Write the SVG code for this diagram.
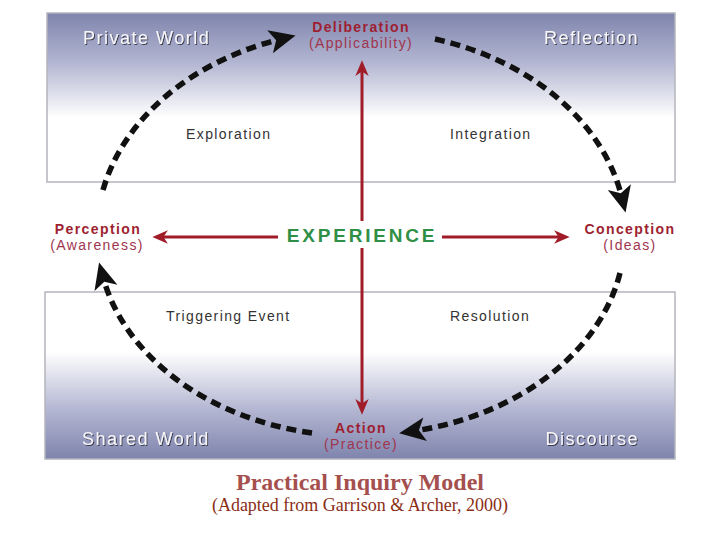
<svg xmlns="http://www.w3.org/2000/svg" width="720" height="540" viewBox="0 0 720 540">
  <defs>
    <linearGradient id="gTop" x1="0" y1="0" x2="0" y2="1">
      <stop offset="0" stop-color="#7f84ad"/>
      <stop offset="0.3" stop-color="#b4b7d2"/>
      <stop offset="0.62" stop-color="#ffffff"/>
      <stop offset="1" stop-color="#ffffff"/>
    </linearGradient>
    <linearGradient id="gBot" x1="0" y1="0" x2="0" y2="1">
      <stop offset="0" stop-color="#ffffff"/>
      <stop offset="0.36" stop-color="#ffffff"/>
      <stop offset="0.7" stop-color="#b4b7d2"/>
      <stop offset="1" stop-color="#7f84ad"/>
    </linearGradient>
    <filter id="sh" x="-10%" y="-30%" width="120%" height="160%">
      <feDropShadow dx="1" dy="1" stdDeviation="0.6" flood-color="#2a2a3a" flood-opacity="0.85"/>
    </filter>
    <marker id="blk" markerUnits="userSpaceOnUse" markerWidth="30" markerHeight="30" viewBox="-10 -12 24 24" refX="0" refY="0" orient="auto">
      <path d="M12,0 L-9,-9.5 L-4,0 L-9,9.5 Z" fill="#111"/>
    </marker>
    <marker id="red" markerUnits="userSpaceOnUse" markerWidth="20" markerHeight="20" viewBox="-10 -8 18 16" refX="0" refY="0" orient="auto">
      <path d="M6,0 L-8,-6 L-4,0 L-8,6 Z" fill="#a01c28"/>
    </marker>
    <style>
      .panel { stroke: #b4b4bc; stroke-width: 1.5; }
      .world { font-family: "Liberation Sans", Arial, sans-serif; font-size: 18px; letter-spacing: 1.5px; fill: #f6f6fa; filter: url(#sh); }
      .phase { font-family: "Liberation Sans", Arial, sans-serif; font-size: 14px; letter-spacing: 1.4px; fill: #333; }
      .head { font-family: "Liberation Sans", Arial, sans-serif; font-size: 14px; letter-spacing: 1.4px; font-weight: bold; fill: #9e1f32; text-anchor: middle; }
      .sub { font-family: "Liberation Sans", Arial, sans-serif; font-size: 14px; letter-spacing: 1.4px; fill: #a0354f; text-anchor: middle; }
      .cyc { fill: none; stroke: #111; stroke-width: 5.5; stroke-dasharray: 10 6; marker-end: url(#blk); }
      .ax { fill: none; stroke: #a01c28; stroke-width: 3; marker-end: url(#red); }
    </style>
  </defs>

  <rect width="720" height="540" fill="#ffffff"/>

  <g id="panels">
    <rect class="panel" x="47" y="13" width="628" height="169" fill="url(#gTop)"/>
    <rect class="panel" x="45" y="292" width="630" height="167" fill="url(#gBot)"/>
  </g>

  <g id="connectors">
    <path class="cyc" d="M103,190 A265,205 0 0 1 281,39"/>
    <path class="cyc" d="M435,39 A265,205 0 0 1 622,198"/>
    <path class="cyc" d="M620,273 A262,200 0 0 1 414,431"/>
    <path class="cyc" d="M312,433 A262,200 0 0 1 103,277"/>
    <path class="ax" d="M362,221 L362,67"/>
    <path class="ax" d="M362,248 L362,408"/>
    <path class="ax" d="M278,237 L159,237"/>
    <path class="ax" d="M442,237 L563,237"/>
  </g>

  <g id="private-world"><text class="world" x="83" y="44">Private World</text></g>
  <g id="reflection"><text class="world" x="639" y="44" text-anchor="end">Reflection</text></g>
  <g id="shared-world"><text class="world" x="82" y="445">Shared World</text></g>
  <g id="discourse"><text class="world" x="639" y="445" text-anchor="end">Discourse</text></g>

  <g id="deliberation">
    <text class="head" x="361" y="32">Deliberation</text>
    <text class="sub" x="361" y="48">(Applicability)</text>
  </g>
  <g id="perception">
    <text class="head" x="98" y="234">Perception</text>
    <text class="sub" x="97" y="250">(Awareness)</text>
  </g>
  <g id="conception">
    <text class="head" x="630" y="234">Conception</text>
    <text class="sub" x="630" y="250">(Ideas)</text>
  </g>
  <g id="action">
    <text class="head" x="361" y="433">Action</text>
    <text class="sub" x="361" y="449">(Practice)</text>
  </g>
  <g id="experience">
    <text x="362" y="242" text-anchor="middle" font-family="'Liberation Sans', Arial, sans-serif" font-size="19" font-weight="bold" letter-spacing="2.8" fill="#2f8f46">EXPERIENCE</text>
  </g>

  <g id="exploration"><text class="phase" x="186" y="139">Exploration</text></g>
  <g id="integration"><text class="phase" x="450" y="139">Integration</text></g>
  <g id="triggering-event"><text class="phase" x="166" y="321">Triggering Event</text></g>
  <g id="resolution"><text class="phase" x="450" y="321">Resolution</text></g>

  <g id="caption">
    <text x="360" y="490" text-anchor="middle" font-family="'Liberation Serif', 'Times New Roman', serif" font-size="24" font-weight="bold" fill="#a5504e">Practical Inquiry Model</text>
    <text x="360" y="511" text-anchor="middle" font-family="'Liberation Serif', 'Times New Roman', serif" font-size="18" fill="#8b2e16">(Adapted from Garrison &amp; Archer, 2000)</text>
  </g>
</svg>
